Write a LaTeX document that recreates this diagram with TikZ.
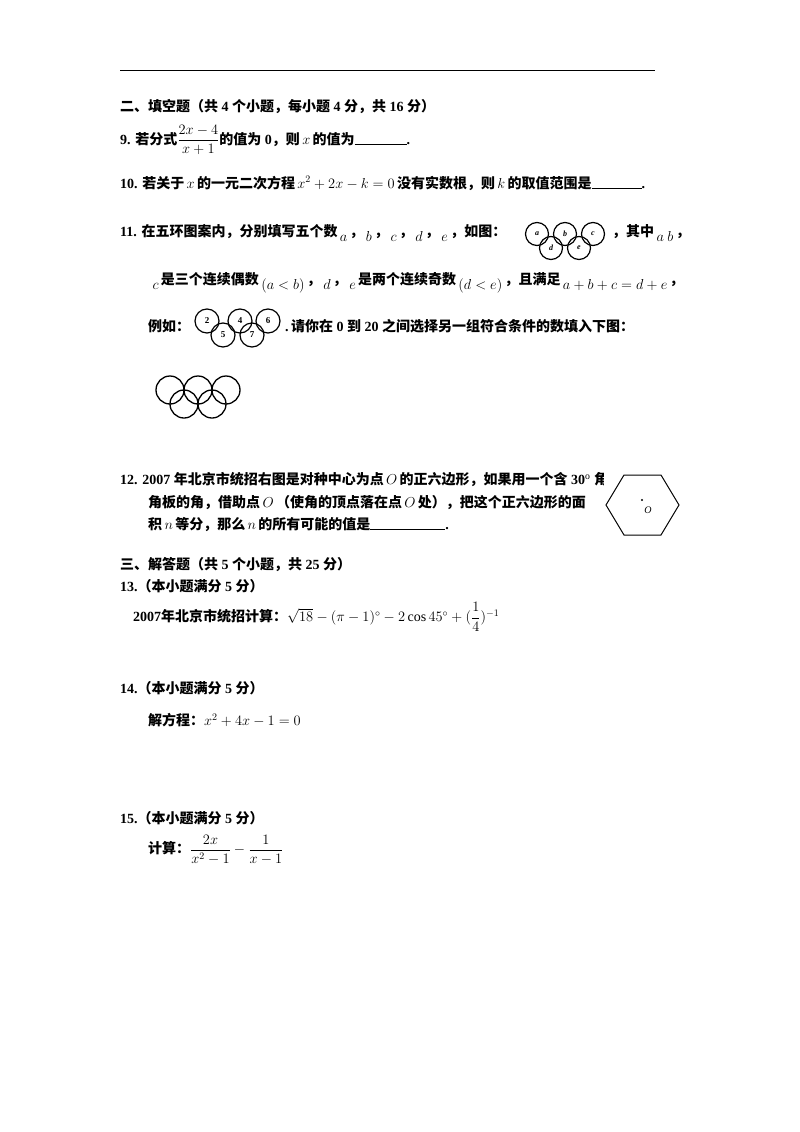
\documentclass[tikz,border=0pt]{standalone}
\usepackage{amsmath}
\usepackage{fontspec}
\setmainfont{Liberation Serif}
\newfontfamily\cjk{Noto Sans CJK SC}
\newcommand{\z}[1]{{\cjk\bfseries #1}}
\newcommand{\lo}[1]{\,\raisebox{-5pt}{$#1$}\,}
\begin{document}
\begin{tikzpicture}[x=1pt,y=-1pt,
 t/.style={anchor=west,inner sep=0pt,font=\fontsize{14}{16}\selectfont\bfseries},
 ring/.style={draw,line width=1.3pt},
 rs/.style={draw,line width=1.2pt}]
\useasboundingbox (0,0) rectangle (800,1132);
\draw[line width=0.8pt] (120,70) -- (655,70);
\node[t] (h2) at (120,107) {\z{二、填空题（共} 4 \z{个小题，每小题} 4 \z{分，共} 16 \z{分）}};
\node[t] (q9) at (120,140) {9. \z{若分式}$\dfrac{2x-4}{x+1}$\z{的值为} 0\z{，则}\,$x$\,\z{的值为}\rule{52pt}{0.5pt}.};
\node[t] (q10) at (120,183) {10. \z{若关于}\,$x$\,\z{的一元二次方程}\,$x^2+2x-k=0$\,\z{没有实数根，则}\,$k$\,\z{的取值范围是}\rule{50pt}{0.5pt}.};
\node[t] (q11) at (120,233) {11. \z{在五环图案内，分别填写五个数}\lo{a}\z{，}\lo{b}\z{，}\lo{c}\z{，}\lo{d}\z{，}\lo{e}\z{，如图：}};
\node[t] (q11b) at (612,233) {\z{，其中}\lo{a\ b}\z{，}};
\node[t] (q11c) at (150,283) {\lo{c}\z{是三个连续偶数}\lo{(a<b)}\z{，}\lo{d}\z{，}\lo{e}\z{是两个连续奇数}\lo{(d<e)}\z{，且满足}\lo{a+b+c=d+e}\z{，}};
\node[t] (q11d) at (148,326) {\z{例如：}};
\node[t] (q11e) at (285,326) {.\,\z{请你在} 0 \z{到} 20 \z{之间选择另一组符合条件的数填入下图：}};
% icon rings
\foreach \x/\l in {537/a,565/b,593/c} \node[rs,circle,minimum size=23pt,inner sep=0pt,font=\footnotesize\bfseries\itshape] at (\x,234) {\l};
\foreach \x/\l in {551/d,579/e} \node[rs,circle,minimum size=23pt,inner sep=0pt,font=\footnotesize\bfseries\itshape] at (\x,248) {\l};
\foreach \x/\l in {207/2,240/4,268/6} \node[rs,circle,minimum size=24pt,inner sep=0pt,font=\small\bfseries] at (\x,321) {\l};
\foreach \x/\l in {223/5,252/7} \node[rs,circle,minimum size=24pt,inner sep=0pt,font=\small\bfseries] at (\x,335) {\l};
\foreach \x in {170,198,226} \draw[ring] (\x,390) circle (14);
\foreach \x in {184,212} \draw[ring] (\x,404) circle (14);
% 12
\node[t] (q12) at (120,480) {12. 2007 \z{年北京市统招右图是对种中心为点}\,$O$\,\z{的正六边形，如果用一个含} 30$^{\rm o}$ \z{角的直角三}};
\node[t] (q12b) at (148,503) {\z{角板的角，借助点}\,$O$\,\z{（使角的顶点落在点}\,$O$\,\z{处），把这个正六边形的面}};
\node[t] (q12c) at (148,525) {\z{积}\,$n$\,\z{等分，那么}\,$n$\,\z{的所有可能的值是}\rule{75pt}{0.5pt}.};
\fill[white] (604,464) rectangle (692,542);
\draw[line width=1pt] (624,475) -- (661,475) -- (679,505) -- (661,535) -- (624,535) -- (606,505) -- cycle;
\fill (642,500) circle (1.2);
\node[font=\normalsize\itshape] (O) at (648,510) {O};
% section 3
\node[t] (h3) at (120,565) {\z{三、解答题（共} 5 \z{个小题，共} 25 \z{分）}};
\node[t] (q13) at (120,586) {13.\z{（本小题满分} 5 \z{分）}};
\node[t] (q13b) at (133,617) {2007\z{年北京市统招计算：}$\sqrt{18}-(\pi-1)^{\circ}-2\cos45^{\circ}+(\dfrac{1}{4})^{-1}$};
\node[t] (q14) at (120,688) {14.\z{（本小题满分} 5 \z{分）}};
\node[t] (q14b) at (148,720) {\z{解方程：}$x^2+4x-1=0$};
\node[t] (q15) at (120,818) {15.\z{（本小题满分} 5 \z{分）}};
\node[t] (q15b) at (148,850) {\z{计算：}$\dfrac{2x}{x^2-1}-\dfrac{1}{x-1}$};
\end{tikzpicture}
\end{document}
